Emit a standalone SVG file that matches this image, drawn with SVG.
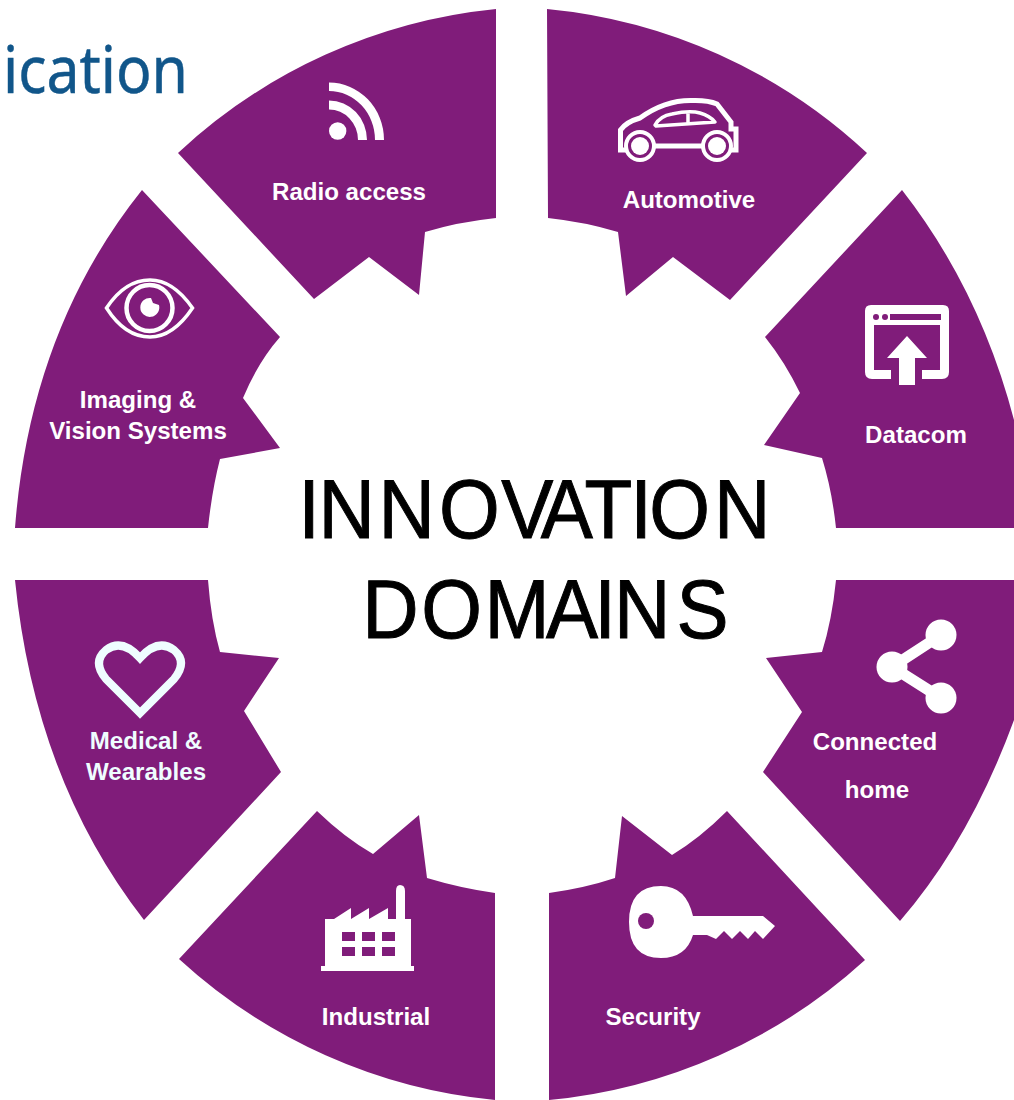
<svg xmlns="http://www.w3.org/2000/svg" width="1014" height="1100" viewBox="0 0 1014 1100">
<style>
.seg{fill:#801c7a}
.lbl{font-family:"Liberation Sans",Arial,sans-serif;font-weight:bold;font-size:24.100px;fill:#fff;text-anchor:middle}
.big{font-family:"Liberation Sans",Arial,sans-serif;font-size:84px;fill:#000;stroke:#000;stroke-width:1}
.ico{fill:#fff}
.lin{fill:none;stroke:#fff}
</style>
<rect width="1014" height="1100" fill="#fff"/>
<text x="3" y="93" font-family="'Noto Sans','DejaVu Sans',sans-serif" font-size="66" fill="#11568a" stroke="#11568a" stroke-width=".5" textLength="185" lengthAdjust="spacingAndGlyphs">ication</text>
<g id="radio-access">
<path class="seg" d="M496 9A545 545 0 0 0 178 153L314 299L369 257L419 295L425 232Q458 222 496 218Z"/>
<circle class="ico" cx="337.700" cy="131" r="8.700"/>
<path class="ico" d="M329 82.500A55 57.500 0 0 1 384 140H375A46 49 0 0 0 329 91ZM329 100.500A38 39.500 0 0 1 367 140H358A29 30.500 0 0 0 329 109.500Z"/>
<text class="lbl" x="349" y="200">Radio access</text>
</g>
<g id="automotive">
<path class="seg" d="M547 9A545 545 0 0 1 867 153L730 300L673 257L626 296L618 232Q585 222 548 218Z"/>
<path class="lin" stroke-width="5" d="M628 150H620.500V130Q626 122 640 118Q665 100 692 100.500Q708 100 717 104L731 122V129H736V150H730M654 146H703"/>
<circle fill="#801c7a" stroke="#fff" stroke-width="4" cx="640" cy="146" r="14"/><circle fill="#801c7a" stroke="#fff" stroke-width="4" cx="717" cy="146" r="14"/>
<circle class="ico" cx="640" cy="146" r="9"/><circle class="ico" cx="717" cy="146" r="9"/>
<path class="lin" stroke-width="3.500" stroke-linejoin="round" d="M655 125Q660 116 672 114Q690 110 700 113Q710 116 715 122L656 126ZM688 112V123"/>
<text class="lbl" x="689" y="208">Automotive</text>
</g>
<g id="datacom">
<path class="seg" d="M902 190Q980 290 1014 420V528H836Q832 490 822 458L764 445L800 393Q785 362 765 337Z"/>
<path class="ico" fill-rule="evenodd" d="M871 305H943Q949 305 949 311V372Q949 379 942 379H922V370H940V325H874V370H891V379H872Q865 379 865 372V311Q865 305 871 305ZM890 314V320H941V314Z"/>
<circle class="seg" cx="876" cy="317" r="3"/><circle class="seg" cx="885" cy="317" r="3"/>
<path class="ico" d="M907 336L927 358H915V385H899V358H887Z"/>
<text class="lbl" x="916" y="443">Datacom</text>
</g>
<g id="connected-home">
<path class="seg" d="M836 580H1014V720Q970 840 900 921L763 772L802 712L766 658L822 652Q832 620 836 580Z"/>
<circle class="ico" cx="941" cy="635" r="15.500"/><circle class="ico" cx="892" cy="667" r="15.500"/><circle class="ico" cx="941" cy="698" r="15.500"/>
<path class="lin" stroke-width="11" d="M941 635L892 667L941 698"/>
<text class="lbl" x="875" y="750">Connected</text>
<text class="lbl" x="877" y="798">home</text>
</g>
<g id="security">
<path class="seg" d="M549 893Q585 888 615 878L622 816L672 855Q700 838 727 811L865 960A545 545 0 0 1 549 1100Z"/>
<path class="ico" d="M661 886Q686 886 693 916H763L775 926L763 939L755 931L748 939L740 931L732 939L724 931L716 939L707 935H693Q686 958 661 958Q629 958 629 922Q629 886 661 886Z"/>
<circle class="seg" cx="646" cy="921" r="8"/>
<text class="lbl" x="653" y="1025">Security</text>
</g>
<g id="industrial">
<path class="seg" d="M495 893Q460 888 427 878L419 815L373 854Q345 838 317 811L179 959A545 545 0 0 0 495 1100Z"/>
<path class="ico" fill-rule="evenodd" d="M325 966V919H334L351 908V919L369 908V919L388 908V919H396V891Q396 885 400 885Q405 885 405 891V919H411V966H414V971H321V966ZM342 932V941H355V932ZM362 932V941H375V932ZM382 932V941H395V932ZM342 947V956H355V947ZM362 947V956H375V947ZM382 947V956H395V947Z"/>
<text class="lbl" x="376" y="1025">Industrial</text>
</g>
<g id="medical-wearables">
<path class="seg" d="M15 580H208Q211 620 220 652L279 658L244 711L281 772L144 920Q35 780 15 580Z"/>
<path fill="none" stroke="#effdff" stroke-width="8" d="M140 713L106 679Q92 662 106 650Q122 638 140 658Q158 638 174 650Q188 662 174 679Z"/>
<text class="lbl" x="146" y="749" style="fill:#effdff">Medical &amp;</text>
<text class="lbl" x="146" y="780" style="fill:#effdff">Wearables</text>
</g>
<g id="imaging-vision-systems">
<path class="seg" d="M142 190L280 337Q258 362 243 398L280 448L220 459Q212 490 208 528H15Q30 330 142 190Z"/>
<path class="lin" stroke-width="3.500" d="M106.500 308Q125 280 150 280Q173 280 192.500 308Q173 337 150 337Q125 337 106.500 308Z"/>
<circle class="lin" stroke-width="4.500" cx="149.500" cy="308" r="23"/>
<path class="ico" d="M151 298L153 303L159 305A9.500 9.500 0 1 1 151 298Z"/>
<text class="lbl" x="138" y="408">Imaging &amp;</text>
<text class="lbl" x="138" y="439">Vision Systems</text>
</g>
<g id="title" transform="scale(.93 1)">
<text class="big" y="538" x="320.800 342.400 406.900 472 539 581.400 628.400 677.700 698.200 767.800">INNOVATION</text>
<text class="big" y="638" x="389.400 453 521 587 639 660.300 727.400">DOMAINS</text>
</g>
</svg>
